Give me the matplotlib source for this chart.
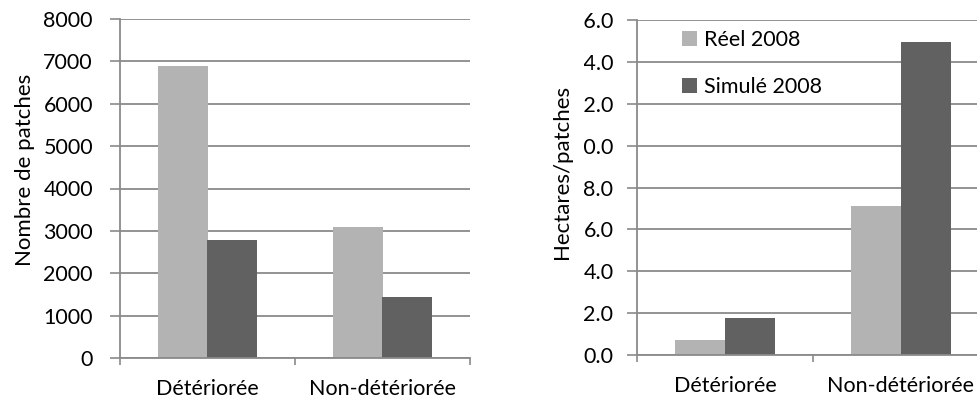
import matplotlib
matplotlib.use("Agg")
import matplotlib.pyplot as plt
from matplotlib.transforms import Bbox, TransformedBbox

plt.rcParams['font.family'] = ['Lato', 'DejaVu Sans']

categories = ['Détériorée', 'Non-détériorée']
series = ['Réel 2008', 'Simulé 2008']
nombre_reel = [6900, 3100]
nombre_simule = [2780, 1450]
hectares_reel = [0.7, 7.1]
hectares_simule = [1.75, 14.95]

colors = ['#b3b3b3', '#616161']
line_col = '#8a8a8a'
fs = 15.5

fig = plt.figure(figsize=(9.78, 4.0), dpi=100)
W, H = 978, 400

def make_axes(x0, x1, ytop, ybot):
    return fig.add_axes([x0 / W, (H - ybot) / H, (x1 - x0) / W, (ybot - ytop) / H])

def style_axes(ax, ymax, ystep, fmt, ypad):
    ax.set_xlim(0, len(categories))
    ax.set_ylim(0, ymax)
    ticks = [i * ystep for i in range(int(round(ymax / ystep)) + 1)]
    ax.set_yticks(ticks)
    ax.set_yticklabels([fmt % t for t in ticks], fontsize=fs)
    ax.set_xticks([i + 0.5 for i in range(len(categories))])
    ax.set_xticklabels(categories, fontsize=fs)
    ax.set_xticks(range(len(categories) + 1), minor=True)
    ax.tick_params(axis='x', which='major', length=0, pad=15)
    ax.tick_params(axis='x', which='minor', length=5, width=1.2, color=line_col)
    ax.tick_params(axis='y', length=7, width=1.2, color=line_col, pad=ypad)
    for s in ['top', 'right']:
        ax.spines[s].set_visible(False)
    for s in ['left', 'bottom']:
        ax.spines[s].set_color(line_col)
        ax.spines[s].set_linewidth(1.3)
    ax.yaxis.grid(True, color=line_col, linewidth=1.3)
    ax.set_axisbelow(True)

def draw_bars(ax, vals_a, vals_b):
    w = 1 / 3.5
    xs = [i + 0.5 for i in range(len(categories))]
    ax.bar([x - w / 2 for x in xs], vals_a, width=w, color=colors[0], label=series[0])
    ax.bar([x + w / 2 for x in xs], vals_b, width=w, color=colors[1], label=series[1])

# left chart: number of patches
ax1 = make_axes(120, 470, 19, 358)
draw_bars(ax1, nombre_reel, nombre_simule)
style_axes(ax1, 8000, 1000, '%d', 12.5)
ax1.set_ylabel('Nombre de patches', fontsize=16)
ax1.yaxis.label.set_va('center')
ax1.yaxis.set_label_coords(-0.271, 0.555)

# right chart: hectares per patch (runs past the right edge, labels cut on the left)
ax2 = make_axes(637, 989, 20, 355)
draw_bars(ax2, hectares_reel, hectares_simule)
style_axes(ax2, 16, 2, '%.1f', 10)
ax2.set_ylabel('Hectares/patches', fontsize=16)
ax2.yaxis.label.set_va('center')
ax2.yaxis.set_label_coords(-0.213, 0.546)

clip = TransformedBbox(Bbox([[584 / W, 0], [1, 1]]), fig.transFigure)
for t in ax2.yaxis.get_major_ticks():
    t.label1.set_clip_box(clip)
    t.label1.set_clip_on(True)

ax2.legend(loc='upper left', bbox_to_anchor=(0.092, 1.008), frameon=False, fontsize=fs,
           handlelength=0.7, handleheight=0.7, handletextpad=0.3, labelspacing=1.25,
           borderaxespad=0.2)

fig.savefig('out.png', dpi=100)
